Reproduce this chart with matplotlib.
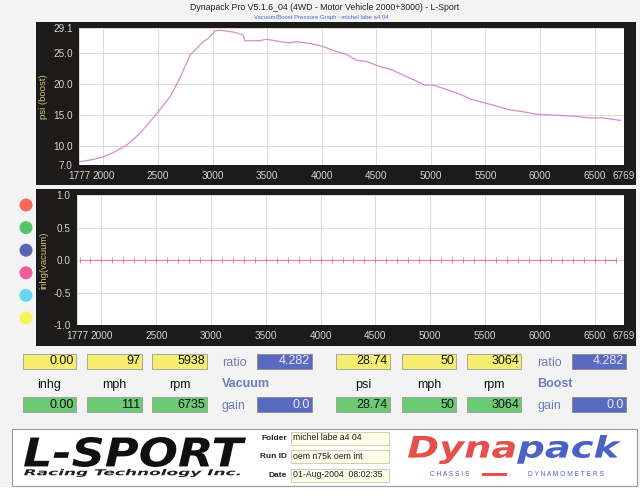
import matplotlib
matplotlib.use('Agg')
import matplotlib.pyplot as plt
from matplotlib.patches import Rectangle, Circle, PathPatch
from matplotlib.textpath import TextPath, text_to_path
from matplotlib.font_manager import FontProperties
from matplotlib.transforms import Affine2D

plt.rcParams['font.family'] = ['Liberation Sans', 'DejaVu Sans']

W, H = 640, 501

# boost trace
boost_rpm = [1777, 1908, 2000, 2091, 2213, 2335, 2427, 2503, 2610, 2701,
             2793, 2854, 2914, 2960, 3021, 3064, 3189, 3280, 3296, 3433,
             3494, 3616, 3708, 3769, 3891, 3998, 4135, 4226, 4318, 4409,
             4531, 4653, 4744, 4836, 4943, 5019, 5141, 5263, 5370, 5507,
             5599, 5720, 5842, 5965, 6117, 6300, 6453, 6574, 6735]
boost_psi = [7.5, 7.9, 8.3, 9.0, 10.2, 12.1, 14.0, 15.6, 18.0, 21.0,
             24.7, 25.8, 26.9, 27.4, 28.6, 28.74, 28.45, 28.0, 27.05, 27.05,
             27.3, 26.9, 26.7, 26.9, 26.6, 26.2, 25.3, 24.85, 23.9, 23.7,
             22.9, 22.3, 21.5, 20.8, 19.9, 19.9, 19.2, 18.45, 17.6, 16.95,
             16.5, 15.9, 15.6, 15.2, 15.05, 14.9, 14.6, 14.6, 14.2]

# vacuum trace (flat at zero)
vac_rpm = [1800, 1900, 2000, 2100, 2200, 2300, 2400, 2500, 2600, 2700,
           2800, 2900, 3000, 3100, 3200, 3300, 3400, 3500, 3600, 3700,
           3800, 3900, 4000, 4100, 4200, 4300, 4400, 4500, 4600, 4700,
           4800, 4900, 5000, 5100, 5200, 5300, 5400, 5500, 5600, 5700,
           5800, 5900, 6000, 6100, 6200, 6300, 6400, 6500, 6600, 6700]
vac_inhg = [0, 0, 0, 0, 0, 0, 0, 0, 0, 0,
            0, 0, 0, 0, 0, 0, 0, 0, 0, 0,
            0, 0, 0, 0, 0, 0, 0, 0, 0, 0,
            0, 0, 0, 0, 0, 0, 0, 0, 0, 0,
            0, 0, 0, 0, 0, 0, 0, 0, 0, 0]

rpm_ticks = [1777, 2000, 2500, 3000, 3500, 4000, 4500, 5000, 5500, 6000, 6500, 6769]
boost_ticks = [7.0, 10.0, 15.0, 20.0, 25.0, 29.1]
vac_ticks = [-1.0, -0.5, 0.0, 0.5, 1.0]

vac_top = ['0.00', '97', '5938']
vac_bot = ['0.00', '111', '6735']
vac_units = ['inhg', 'mph', 'rpm']
boost_top = ['28.74', '50', '3064']
boost_bot = ['28.74', '50', '3064']
boost_units = ['psi', 'mph', 'rpm']
ratio_val = '4.282'
gain_val = '0.0'

run_labels = ['Folder', 'Run ID', 'Date']
run_values = ['michel labe a4 04', 'oem n75k oem int', '01-Aug-2004  08:02:35']

dot_colors = ['#f26a5a', '#58c46a', '#5a64b4', '#ec5f9c', '#66d6f0', '#f6f45e']

PX = Affine2D().scale(1.0 / W, 1.0 / H)


def pbox(x0, y0, x1, y1):
    return [x0 / W, 1 - y1 / H, (x1 - x0) / W, (y1 - y0) / H]


def rect(fig, x0, y0, x1, y1, fc, ec='none', lw=0.0, z=0):
    r = Rectangle((x0 / W, 1 - y1 / H), (x1 - x0) / W, (y1 - y0) / H,
                  transform=fig.transFigure, fc=fc, ec=ec, lw=lw, zorder=z)
    fig.add_artist(r)


def ftext(fig, x, y, s, **kw):
    fig.text(x / W, 1 - y / H, s, **kw)


def fit_path(fig, s, x0, y0, x1, y1, color, prop, ec='none', lw=0):
    tp = TextPath((0, 0), s, size=10, prop=prop)
    bb = tp.get_extents()
    tr = (Affine2D().translate(-bb.x0, -bb.y0)
          .scale((x1 - x0) / bb.width, (y1 - y0) / bb.height)
          .translate(x0, H - y1))
    fig.add_artist(PathPatch(tr.transform_path(tp), fc=color, ec=ec, lw=lw,
                             transform=PX + fig.transFigure))


def style_axes(ax, label, lab_x):
    ax.set_facecolor('white')
    for sp in ax.spines.values():
        sp.set_visible(False)
    ax.set_xlim(1777, 6769)
    ax.set_xticks(rpm_ticks)
    ax.set_xticklabels([str(t) for t in rpm_ticks])
    ax.tick_params(length=0, colors='#d4d4d4', labelsize=7.2, pad=4.5)
    ax.grid(True, color='#dadada', lw=0.7)
    ax.set_axisbelow(True)
    ax.set_ylabel(label, color='#cfc77a', fontsize=6.8)
    ax.yaxis.set_label_coords(lab_x, 0.5)


fig = plt.figure(figsize=(W / 100, H / 100), dpi=100)
fig.patch.set_facecolor('#f3f3f3')

ftext(fig, 325, 7, 'Dynapack Pro V5.1.6_04 (4WD - Motor Vehicle 2000+3000) - L-Sport',
      ha='center', va='center', fontsize=6.3, color='#202020')
ftext(fig, 321, 17, 'Vacuum/Boost Pressure Graph : michel labe a4 04',
      ha='center', va='center', fontsize=4.3, color='#4a66c8')

# dark frames behind the two graphs
rect(fig, 36, 22, 636, 185, '#1d1b19')
rect(fig, 36, 189, 636, 346, '#1d1b19')

# colour dots on the left strip
for i, c in enumerate(dot_colors):
    fig.add_artist(Circle((26, H - (205 + i * 22.6)), 6.5, fc=c, ec='none',
                          transform=PX + fig.transFigure))

# boost graph
ax1 = fig.add_axes(pbox(79, 28, 624, 165))
ax1.plot(boost_rpm, boost_psi, color='#d68ccc', lw=0.9)
ax1.set_ylim(7.0, 29.1)
ax1.set_yticks(boost_ticks)
ax1.set_yticklabels(['%.1f' % t for t in boost_ticks])
style_axes(ax1, 'psi (boost)', -0.057)

# vacuum graph
ax2 = fig.add_axes(pbox(77, 195, 624, 325))
ax2.plot(vac_rpm, vac_inhg, color='#e07896', lw=0.8, marker='|', ms=4, mew=0.6)
ax2.set_ylim(-1.0, 1.0)
ax2.set_yticks(vac_ticks)
ax2.set_yticklabels(['%.1f' % t for t in vac_ticks])
style_axes(ax2, 'inhg(vacuum)', -0.053)

# readout panels
YEL, GRN, BLU = '#f6ee72', '#6cca74', '#5a6ac2'
lab_col = '#6c7cbe'


def readout(fig, xs, top, bot, units, ratio_x, box_x, title, title_x):
    for (x0, x1), t, b, u in zip(xs, top, bot, units):
        rect(fig, x0, 354, x1, 369, YEL, '#9a9a9a', 0.6)
        ftext(fig, x1 - 2, 361.5, t, ha='right', va='center', fontsize=9, color='#111111')
        rect(fig, x0, 397, x1, 412, GRN, '#9a9a9a', 0.6)
        ftext(fig, x1 - 2, 404.5, b, ha='right', va='center', fontsize=9, color='#111111')
        ftext(fig, (x0 + x1) / 2, 385, u, ha='center', va='center', fontsize=9, color='#111111')
    ftext(fig, ratio_x, 363, 'ratio', ha='left', va='center', fontsize=9, color=lab_col)
    ftext(fig, ratio_x, 406, 'gain', ha='left', va='center', fontsize=9, color=lab_col)
    ftext(fig, title_x, 384, title, ha='left', va='center', fontsize=9,
          color=lab_col, fontweight='bold')
    rect(fig, box_x[0], 354, box_x[1], 369, BLU, '#8a8a8a', 0.6)
    ftext(fig, box_x[1] - 2, 361.5, ratio_val, ha='right', va='center', fontsize=9, color='#e8ecff')
    rect(fig, box_x[0], 397, box_x[1], 412, BLU, '#8a8a8a', 0.6)
    ftext(fig, box_x[1] - 2, 404.5, gain_val, ha='right', va='center', fontsize=9, color='#e8ecff')


readout(fig, [(23, 76), (87, 142), (152, 207)], vac_top, vac_bot, vac_units,
        222, (257, 312), 'Vacuum', 222)
readout(fig, [(336, 390), (402, 456), (467, 521)], boost_top, boost_bot, boost_units,
        537, (572, 626), 'Boost', 537)

# footer
rect(fig, 0, 487, 640, 501, 'white')
rect(fig, 12, 429, 637, 486, 'white', '#9a9a9a', 0.8)

bold_it = FontProperties(family='DejaVu Sans', weight='bold', style='oblique')
fit_path(fig, 'L-SPORT', 24, 437, 246, 467, '#101010', bold_it)
fit_path(fig, 'Racing Technology Inc.', 24, 469, 240, 477, '#202020', bold_it)

for i, (lab, val) in enumerate(zip(run_labels, run_values)):
    y0 = 432 + i * 18.3
    ftext(fig, 287, y0 + 6.5, lab, ha='right', va='center', fontsize=6,
          color='#222222', fontweight='bold')
    rect(fig, 291, y0, 389, y0 + 13, '#fdfde8', '#c8c8b0', 0.6)
    ftext(fig, 293, y0 + 6, val, ha='left', va='center', fontsize=6.3, color='#202020')

# Dynapack logo: red "Dyna", blue "pack", sharing one scale
tp_all = TextPath((0, 0), 'Dynapack', size=10, prop=bold_it)
bb = tp_all.get_extents()
adv = text_to_path.get_text_width_height_descent('Dyna', bold_it, ismath=False)[0] * 10 / bold_it.get_size_in_points()
sx = (621 - 408) / bb.width
sy = (464 - 435) / bb.height
tr = Affine2D().translate(-bb.x0, -bb.y0).scale(sx, sy).translate(408, H - 464)
fig.add_artist(PathPatch(tr.transform_path(TextPath((0, 0), 'Dyna', size=10, prop=bold_it)),
                         fc='#e5504a', ec='none', transform=PX + fig.transFigure))
fig.add_artist(PathPatch(tr.transform_path(TextPath((adv, 0), 'pack', size=10, prop=bold_it)),
                         fc='#4a62c4', ec='none', transform=PX + fig.transFigure))
ftext(fig, 450, 475, 'C H A S S I S', ha='center', va='center', fontsize=4.8, color='#4a62c4')
ftext(fig, 566, 475, 'D Y N A M O M E T E R S', ha='center', va='center', fontsize=4.8, color='#4a62c4')
rect(fig, 482, 473, 507, 476, '#e5504a')

fig.savefig('out.png', dpi=100, facecolor=fig.get_facecolor())
